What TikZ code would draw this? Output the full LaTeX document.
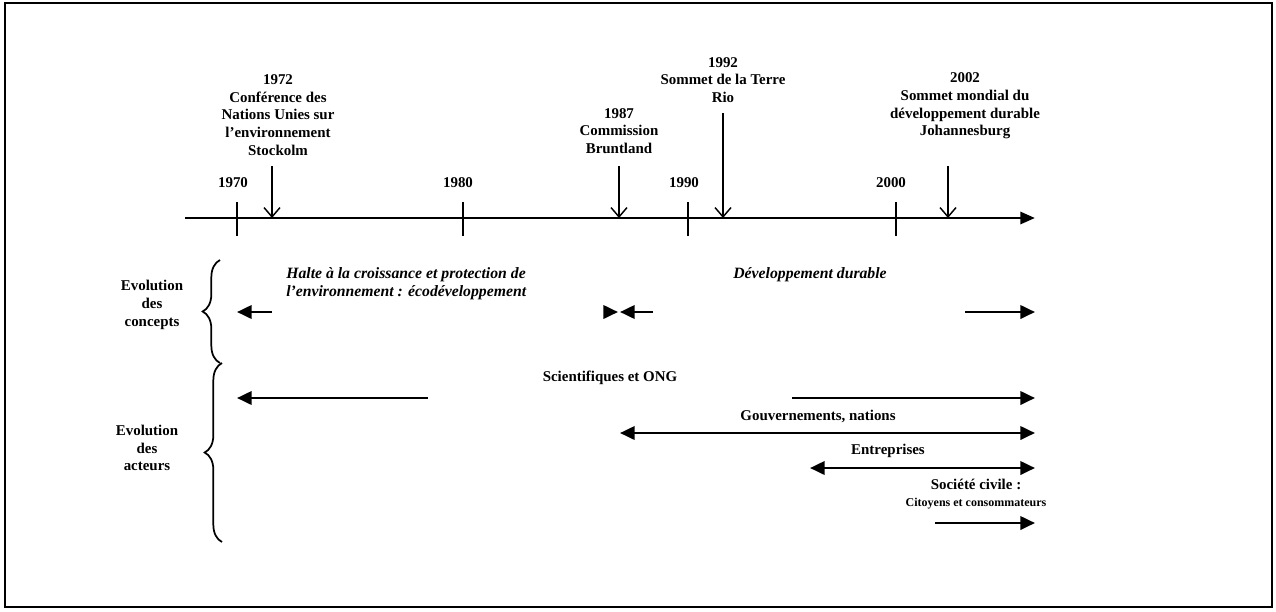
\documentclass[tikz,border=0pt]{standalone}
\usepackage{fontspec}
\setmainfont{Liberation Serif}
\usetikzlibrary{arrows.meta,decorations.pathreplacing}
\begin{document}
\begin{tikzpicture}[x=0.75pt,y=-0.75pt,
  lbl/.style={font=\bfseries\fontsize{11.2}{13.3}\selectfont, align=center, inner sep=0pt},
  ilbl/.style={font=\bfseries\itshape\fontsize{11.8}{13.5}\selectfont, align=left, inner sep=0pt},
  axisline/.style={line width=2.2pt, -{Triangle[length=11pt,width=9pt]}},
  tickline/.style={line width=1.8pt},
  event/.style={line width=1.1pt, -{Straight Barb[length=7pt,width=12pt]}},
  tipR/.style={line width=2pt, -{Triangle[length=11pt,width=10pt]}},
  tipLR/.style={line width=2pt, {Triangle[length=11pt,width=10pt]}-{Triangle[length=11pt,width=10pt]}},
  brc/.style={decorate, decoration={brace, amplitude=13pt}, line width=1.3pt},
]
\useasboundingbox (0,0) rectangle (1276,611);
\draw[line width=1.5pt] (5,3) rectangle (1272,607);

% axis
\coordinate (axL) at (185,218);
\coordinate (axR) at (1035,218);
\draw[axisline] (axL) -- (axR);

% ticks
\foreach \n/\x in {t70/237, t80/463, t90/688, t00/896}{
  \coordinate (\n a) at (\x,202);
  \coordinate (\n b) at (\x,236);
  \draw[tickline] (\n a) -- (\n b);
}
\node[lbl] (y70) at (233,183) {1970};
\node[lbl] (y80) at (458,183) {1980};
\node[lbl] (y90) at (684,183) {1990};
\node[lbl] (y00) at (891,183) {2000};

% events
\node[lbl] (ev72) at (278,115) {1972\\Conférence des\\Nations Unies sur\\l’environnement\\Stockolm};
\node[lbl] (ev87) at (619,131) {1987\\Commission\\Bruntland};
\node[lbl] (ev92) at (723,80) {1992\\Sommet de la Terre\\Rio};
\node[lbl] (ev02) at (965,106) {2002\\Sommet mondial du\\développement durable\\Johannesburg};

\coordinate (e72a) at (272,166); \coordinate (e72b) at (272,218);
\coordinate (e87a) at (619,166); \coordinate (e87b) at (619,218);
\coordinate (e92a) at (723,113); \coordinate (e92b) at (723,218);
\coordinate (e02a) at (948,166); \coordinate (e02b) at (948,218);
\draw[event] (e72a) -- (e72b);
\draw[event] (e87a) -- (e87b);
\draw[event] (e92a) -- (e92b);
\draw[event] (e02a) -- (e02b);

% braces and row labels
\coordinate (b1a) at (220,363); \coordinate (b1b) at (220,260);
\coordinate (b2a) at (222,542); \coordinate (b2b) at (222,363);
\draw[brc] (b1a) -- (b1b);
\draw[brc] (b2a) -- (b2b);
\node[lbl] (evc) at (152,305) {Evolution\\des\\concepts};
\node[lbl] (eva) at (147,448) {Evolution\\des\\acteurs};

% concepts
\node[ilbl, anchor=west] (halte) at (286,284) {Halte à la croissance et protection de\\l’environnement : écodéveloppement};
\node[ilbl] (dd) at (810,275) {Développement durable};
\coordinate (c1a) at (272,312); \coordinate (c1b) at (237,312);
\coordinate (c2a) at (604,312); \coordinate (c2b) at (618,312);
\coordinate (c3a) at (653,312); \coordinate (c3b) at (620,312);
\coordinate (c4a) at (965,312); \coordinate (c4b) at (1035,312);
\draw[tipR] (c1a) -- (c1b);
\draw[tipR] (c2a) -- (c2b);
\draw[tipR] (c3a) -- (c3b);
\draw[tipR] (c4a) -- (c4b);

% actors
\node[lbl] (sci) at (610,378) {Scientifiques et ONG};
\node[lbl] (gov) at (818,416) {Gouvernements, nations};
\node[lbl] (ent) at (888,451) {Entreprises};
\node[lbl] (soc) at (976,494) {Société civile :\\{\fontsize{9}{11}\selectfont Citoyens et consommateurs}};
\coordinate (s1a) at (428,398); \coordinate (s1b) at (237,398);
\coordinate (s2a) at (792,398); \coordinate (s2b) at (1035,398);
\coordinate (g1) at (620,433); \coordinate (g2) at (1035,433);
\coordinate (n1) at (810,468); \coordinate (n2) at (1035,468);
\coordinate (o1) at (935,523); \coordinate (o2) at (1035,523);
\draw[tipR] (s1a) -- (s1b);
\draw[tipR] (s2a) -- (s2b);
\draw[tipLR] (g1) -- (g2);
\draw[tipLR] (n1) -- (n2);
\draw[tipR] (o1) -- (o2);
\end{tikzpicture}
\end{document}
